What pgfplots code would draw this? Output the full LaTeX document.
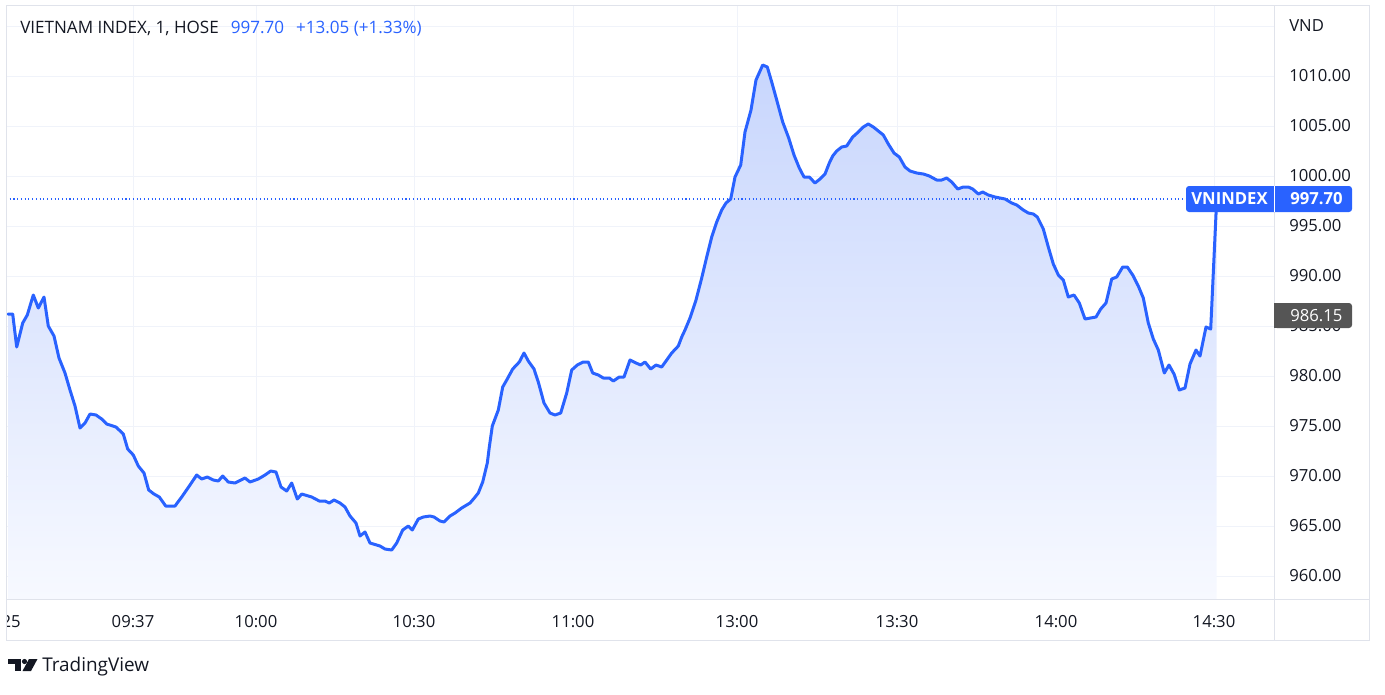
\documentclass[border=0pt]{standalone}
\usepackage{pgfplots}
\pgfplotsset{compat=1.18}
\usepackage{fontspec}
\setmainfont{Open Sans}
\definecolor{tvblue}{HTML}{2962FF}
\definecolor{tvtext}{HTML}{131722}
\definecolor{tvgrid}{HTML}{F0F3FA}
\definecolor{tvborder}{HTML}{E0E3EB}
\definecolor{areatop}{RGB}{200,214,253}
\definecolor{areabot}{RGB}{247,249,255}
\definecolor{tvgray}{RGB}{85,85,85}

\pgfplotstableread{
x v
8 986.2
12.7 986.2
16.7 982.9
22.7 985.3
27.3 986.1
33.3 988.1
38.3 986.8
44 987.9
48.3 985.0
54 984.0
59 981.8
65 980.3
70 978.6
75 977.0
80 974.8
85 975.3
90 976.2
96 976.1
101.7 975.7
106.7 975.2
116 974.9
123.3 974.2
127.7 972.7
133.3 972.1
138.3 971.0
144 970.3
148.7 968.6
154 968.2
159.3 967.9
165.7 967.0
175 967.0
181.7 967.9
190 969.1
196.7 970.1
201.7 969.7
207.3 969.9
213.3 969.6
218.3 969.5
222.7 970.0
228.3 969.4
235 969.3
245 969.8
250 969.4
258.3 969.7
265 970.1
270.7 970.5
276 970.4
281 968.9
286.7 968.5
291.7 969.3
297.3 967.7
301.7 968.2
311.7 967.9
319.3 967.5
325 967.5
329.3 967.3
334 967.6
340 967.3
345 966.9
350 966.0
356 965.3
360 964.0
365 964.4
370 963.3
380 963.0
385 962.7
391.7 962.6
396.7 963.3
402.7 964.6
408.3 965.0
412.3 964.6
418.3 965.7
423.3 965.9
430 966.0
434 965.9
440 965.5
444 965.4
450 966.0
455 966.3
461.7 966.8
470 967.3
474.3 967.8
478.3 968.3
482.7 969.4
487.3 971.3
489.3 972.9
492.3 975.0
498.3 976.6
502.7 978.9
506.7 979.6
512.7 980.7
519.3 981.4
524 982.3
528.3 981.5
534 980.7
538.3 979.4
544 977.3
550 976.3
555 976.1
560.7 976.3
566.7 978.3
571.7 980.6
577.3 981.1
583.3 981.4
588.3 981.4
592.7 980.3
598.3 980.1
603.3 979.8
609.3 979.8
613.3 979.5
619.3 979.9
624 979.9
630 981.6
636 981.3
640.7 981.1
645 981.4
650.7 980.7
656 981.1
661.7 980.9
666 981.5
671.7 982.3
678.3 983.0
681.7 983.9
685 984.6
690 985.8
696 987.6
701.7 989.8
706.7 991.9
711.7 993.9
716.7 995.4
721.7 996.6
726 997.3
730.7 997.7
735 999.9
740.7 1001.1
745 1004.4
751 1006.6
756 1009.6
762.7 1011.1
767.3 1010.9
771.7 1009.4
776.7 1007.6
782.7 1005.4
788.7 1003.8
794 1002.1
799.3 1000.8
804 999.9
809.3 999.9
815 999.3
820 999.7
825 1000.2
829.3 1001.3
832.7 1002.0
836.7 1002.5
841.7 1002.9
846.7 1003.0
852.7 1003.9
858.3 1004.4
863.3 1004.9
868.3 1005.2
873.3 1004.9
878.3 1004.5
883.3 1004.1
888.3 1003.2
894 1002.3
899.3 1001.9
905 1000.9
910 1000.5
916.7 1000.3
923.3 1000.2
929.3 1000.0
936.7 999.6
941.7 999.6
946.7 999.8
951.7 999.4
957.7 998.7
963.3 998.9
968.3 998.9
972.7 998.7
978.3 998.2
982.7 998.4
988.3 998.1
995 997.9
1005 997.7
1011.7 997.3
1016.7 997.1
1023.3 996.6
1028.3 996.3
1033.3 996.2
1037.3 995.9
1043.3 994.7
1048.3 992.9
1053.3 991.2
1058.3 990.1
1063.3 989.6
1068.3 987.9
1074 988.1
1079.3 987.3
1085 985.7
1096 985.9
1100.7 986.7
1106 987.3
1111.7 989.7
1116.7 989.9
1122.7 990.9
1127.3 990.9
1132.7 990.1
1138.3 989.0
1143.3 987.8
1148.3 985.3
1153.3 983.7
1158.3 982.6
1164.3 980.3
1169 981.1
1174 980.2
1179.3 978.6
1185 978.8
1190 981.2
1196 982.6
1200 982.0
1206 984.9
1210.7 984.7
1216.7 997.7
}\vnindex

\begin{document}
\begin{tikzpicture}
\fontsize{12.5}{14}\selectfont
\path (0,0) rectangle (1038.75pt,-520.5pt);
\begin{axis}[
  at={(4.5pt,-449.25pt)}, anchor=south west,
  scale only axis, width=951pt, height=445.5pt,
  xmin=6, xmax=1274, ymin=957.7, ymax=1017.1,
  axis line style={tvborder, line width=0.75pt},
  grid=major, major grid style={tvgrid, line width=0.75pt},
  xtick={133,256,414,573,737,897,1056,1214},
  xticklabels={09:37,10:00,10:30,11:00,13:00,13:30,14:00,14:30},
  ytick={960,965,970,975,980,985,990,995,1000,1005,1010,1015},
  yticklabels={960.00,965.00,970.00,975.00,980.00,985.00,990.00,995.00,1000.00,1005.00,1010.00,VND},
  yticklabel pos=right,
  major tick length=0pt, tick style={draw=none},
  ticklabel style={font=\fontsize{12.5}{14}\selectfont, text=tvtext},
  xticklabel style={anchor=center, yshift=-17.25pt},
  yticklabel style={anchor=west, xshift=11.25pt, inner sep=0pt},
  clip=true,
]
\addplot[draw=none, top color=areatop, bottom color=areabot] table[x=x,y=v] {\vnindex} \closedcycle;
\draw[tvblue, line width=0.8pt, dash pattern=on 0.8pt off 2pt] (axis cs:6,997.7) -- (axis cs:1186,997.7);
\addplot[tvblue, line width=2.25pt, line join=round, line cap=round] table[x=x,y=v] {\vnindex};
\end{axis}
\begin{scope}[x=0.75pt,y=-0.75pt]
% frame
\draw[tvborder, line width=0.75pt] (6,5) rectangle (1369,640);
\draw[tvborder, line width=0.75pt] (6,599) -- (1369,599);
\draw[tvborder, line width=0.75pt] (1274,5) -- (1274,640);
% title
\node[anchor=west, inner sep=0pt, text=tvtext, font=\fontsize{12.8}{15}\selectfont] at (20,29) {VIETNAM INDEX, 1, HOSE\hspace{9pt}\textcolor{tvblue}{997.70\hspace{9pt}+13.05 (+1.33\%)}};
% clipped first x label
\begin{scope}
\clip (7,600) rectangle (60,639);
\node[anchor=east, inner sep=0pt, text=tvtext] at (21,622) {25};
\end{scope}
% price tags
\fill[tvblue, rounded corners=2.25pt] (1186,186) rectangle (1352,212);
\draw[white, line width=0.75pt] (1274,186) -- (1274,212);
\node[text=white, inner sep=0pt, font=\bfseries] at (1229.5,199) {VNINDEX};
\node[text=white, inner sep=0pt, anchor=west, font=\bfseries] at (1290,199) {997.70};
\fill[tvgray, rounded corners=2.25pt] (1274,303) rectangle (1352,328);
\fill[tvgray] (1274,303) rectangle (1280,328);
\node[text=white, inner sep=0pt, anchor=west] at (1290,315.5) {986.15};
% TradingView logo
\fill[tvtext] (8,659) rectangle (21,664);
\fill[tvtext] (15,659) rectangle (21,671);
\fill[tvtext] (24.5,661.5) circle (2.6);
\fill[tvtext] (29,659) -- (37.5,659) -- (31,671) -- (22.5,671) -- cycle;
\node[anchor=west, inner sep=0pt, text=tvtext, font=\fontsize{14.2}{16}\selectfont] at (42,667) {TradingView};
\end{scope}
\end{tikzpicture}
\end{document}
